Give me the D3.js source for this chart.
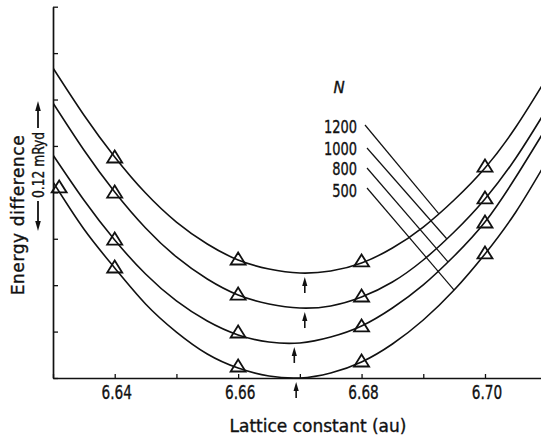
<!DOCTYPE html>
<html>
<head>
<meta charset="utf-8">
<script src="https://cdn.jsdelivr.net/npm/d3@7"></script>
<style>
  html, body { margin: 0; padding: 0; background: #fff; }
  svg { display: block; }
  text { stroke: #111; stroke-width: 0.35px; }
</style>
</head>
<body>
<svg id="chart" width="541" height="440"></svg>
<script>
// Lattice constant (au) at which the fitted curves are sampled
const latticeGrid = [6.630, 6.635, 6.640, 6.645, 6.650, 6.655, 6.660, 6.665, 6.670,
                     6.675, 6.680, 6.685, 6.690, 6.695, 6.700, 6.705, 6.710];

// Fitted energy difference (µRyd) for each number of plane waves N
const fitN1200 = [267.2, 226.7, 190.5, 159.4, 134.4, 115.5, 101.7, 93.9, 90.5,
                  92.2, 99.1, 112.0, 130.1, 153.4, 181.0, 216.3, 258.6];
const fitN1000 = [237.0, 196.5, 160.3, 129.3, 104.3, 85.3, 71.5, 63.8, 60.3,
                  62.1, 69.8, 82.7, 101.7, 125.8, 154.3, 189.6, 231.8];
const fitN800  = [192.2, 153.4, 118.9, 89.6, 66.4, 49.1, 37.1, 31.0, 30.2,
                  35.3, 44.8, 60.3, 80.2, 105.1, 134.4, 173.2, 216.3];
const fitN500  = [168.9, 128.4, 94.8, 63.8, 39.6, 20.7, 8.6, 1.7, 0.0,
                  4.3, 13.8, 29.3, 50.0, 75.8, 106.9, 143.1, 187.0];

// Computed total energies (µRyd) – triangles
const calcX     = [6.64, 6.66, 6.68, 6.70];
const calcX500  = [6.631, 6.64, 6.66, 6.68, 6.70];
const calcN1200 = [189.6, 101.7, 100.0, 181.8];
const calcN1000 = [159.4, 71.5, 69.8, 154.3];
const calcN800  = [118.9, 38.8, 44.0, 133.6];
const calcN500  = [163.8, 94.8, 9.5, 13.8, 106.9];

// Equilibrium lattice constants (arrows under each minimum)
const seriesN     = [1200, 1000, 800, 500];
const eqLattice   = [6.6708, 6.6708, 6.6691, 6.6694];
const leaderToX   = [6.6925, 6.6938, 6.6940, 6.6950];

// Axis ticks
const xTicks      = [6.63, 6.64, 6.65, 6.66, 6.67, 6.68, 6.69, 6.70, 6.71];
const xTickLabels = ["6.64", "6.66", "6.68", "6.70"];
const yTicks      = [0, 40, 80, 120, 160, 200, 240, 280, 320];

const fits  = [fitN1200, fitN1000, fitN800, fitN500];
const calcs = [
  { xs: calcX, ys: calcN1200 },
  { xs: calcX, ys: calcN1000 },
  { xs: calcX, ys: calcN800 },
  { xs: calcX500, ys: calcN500 }
];

const ink = "#111";
const wordFont  = "'DejaVu Sans', sans-serif";
const narrowFont = "'DejaVu Sans Condensed', 'DejaVu Sans', sans-serif";

const svg = d3.select("#chart");
svg.append("rect").attr("width", 541).attr("height", 440).attr("fill", "#fff");

const x = d3.scaleLinear().domain([6.63, 6.71]).range([53, 546.7]);
const y = d3.scaleLinear().domain([0, 320]).range([378, 6.7]);

// narrow lettering: condensed face squeezed horizontally
function narrowText(parent, tx, ty, str, opts) {
  const g = parent.append("g")
    .attr("transform", `translate(${tx},${ty}) rotate(${opts.rotate || 0}) scale(${opts.sx},1)`);
  return g.append("text")
    .attr("text-anchor", opts.anchor || "middle")
    .attr("font-family", narrowFont)
    .attr("font-size", opts.size)
    .attr("fill", ink)
    .text(str);
}

// ---- axes (ticks point inward)
const xAxis = d3.axisBottom(x)
  .tickValues(xTicks)
  .tickSizeInner(-4)
  .tickSizeOuter(0)
  .tickFormat("");
const gx = svg.append("g").attr("transform", `translate(0,${y(0)})`).call(xAxis);

const yAxis = d3.axisLeft(y)
  .tickValues(yTicks)
  .tickSizeInner(-5)
  .tickSizeOuter(0)
  .tickFormat("");
const gy = svg.append("g").attr("transform", `translate(${x(6.63)},0)`).call(yAxis);

[gx, gy].forEach(g => {
  g.select(".domain").attr("stroke", ink).attr("stroke-width", 1.7);
  g.selectAll(".tick line").attr("stroke", ink).attr("stroke-width", 1.3);
});

// x tick labels
const tickLabels = svg.append("g");
xTickLabels.forEach(d => narrowText(tickLabels, x(+d) + 2, 399, d, { size: 19, sx: 0.8 }));

// axis titles
svg.append("text")
  .attr("x", 318).attr("y", 432)
  .attr("text-anchor", "middle")
  .attr("font-family", wordFont)
  .attr("font-size", 17)
  .attr("fill", ink)
  .text("Lattice constant (au)");

svg.append("text")
  .attr("transform", "translate(24,215) rotate(-90)")
  .attr("text-anchor", "middle")
  .attr("font-family", wordFont)
  .attr("font-size", 17)
  .attr("letter-spacing", 0.6)
  .attr("fill", ink)
  .text("Energy difference");

// scale bar: <— 0.12 mRyd —>
const bar = svg.append("g").attr("transform", "translate(38,0)");
narrowText(bar, 5.5, 165, "0.12 mRyd", { size: 15.5, sx: 0.88, rotate: -90 });
bar.append("line").attr("x1", 0).attr("x2", 0).attr("y1", 108).attr("y2", 128)
  .attr("stroke", ink).attr("stroke-width", 1.8);
bar.append("path").attr("d", "M0,101 L2.8,111 L-2.8,111 Z").attr("fill", ink);
bar.append("line").attr("x1", 0).attr("x2", 0).attr("y1", 201).attr("y2", 223)
  .attr("stroke", ink).attr("stroke-width", 1.8);
bar.append("path").attr("d", "M0,231 L2.8,221 L-2.8,221 Z").attr("fill", ink);

// ---- fitted curves
const plot = svg.append("g");
svg.append("defs").append("clipPath").attr("id", "plotClip")
  .append("rect").attr("x", x(6.63)).attr("y", 0).attr("width", 541 - x(6.63)).attr("height", y(0) + 1);

const line = d3.line()
  .x((d, i) => x(latticeGrid[i]))
  .y(d => y(d))
  .curve(d3.curveNatural);

plot.append("g").attr("clip-path", "url(#plotClip)")
  .selectAll("path")
  .data(fits)
  .join("path")
  .attr("d", d => line(d))
  .attr("fill", "none")
  .attr("stroke", ink)
  .attr("stroke-width", 1.6);

// ---- triangles
const tri = "M0,-7.5 L7.5,4.5 L-7.5,4.5 Z";
calcs.forEach(s => {
  plot.append("g").selectAll("path")
    .data(s.xs.map((xv, i) => [xv, s.ys[i]]))
    .join("path")
    .attr("transform", d => `translate(${x(d[0])},${y(d[1])})`)
    .attr("d", tri)
    .attr("fill", "none")
    .attr("stroke", ink)
    .attr("stroke-width", 1.8)
    .attr("stroke-linejoin", "miter");
});

// value of a fitted curve at lattice constant a (linear between samples)
function fitAt(fit, a) {
  const i = Math.min(d3.bisectRight(latticeGrid, a), latticeGrid.length - 1);
  const a0 = latticeGrid[i - 1], a1 = latticeGrid[i];
  const t = (a - a0) / (a1 - a0);
  return fit[i - 1] + t * (fit[i] - fit[i - 1]);
}

// ---- arrows marking each minimum
eqLattice.forEach((a, k) => {
  const tipY = y(d3.min(fits[k])) + 4;
  const ax = x(a);
  const g = plot.append("g").attr("transform", `translate(${ax},${tipY})`);
  g.append("path").attr("d", "M0,0 L2.6,9 L-2.6,9 Z").attr("fill", ink);
  g.append("line").attr("x1", 0).attr("x2", 0).attr("y1", 7).attr("y2", 16)
    .attr("stroke", ink).attr("stroke-width", 1.6);
});

// ---- legend: N labels with leader lines to their curves
const legendY = [133, 155, 175, 197];
const leaderStart = [[365, 125], [367, 148], [367, 168], [367, 188]];

svg.append("text")
  .attr("x", 339).attr("y", 93)
  .attr("text-anchor", "middle")
  .attr("font-family", wordFont)
  .attr("font-style", "italic")
  .attr("font-size", 15)
  .attr("fill", ink)
  .text("N");

const legend = svg.append("g");
seriesN.forEach((n, k) => {
  narrowText(legend, 357, legendY[k], String(n), { size: 18.5, sx: 0.78, anchor: "end" });
  const ex = leaderToX[k];
  legend.append("line")
    .attr("x1", leaderStart[k][0]).attr("y1", leaderStart[k][1])
    .attr("x2", x(ex)).attr("y2", y(fitAt(fits[k], ex)))
    .attr("stroke", ink).attr("stroke-width", 1.2);
});
</script>
</body>
</html>
